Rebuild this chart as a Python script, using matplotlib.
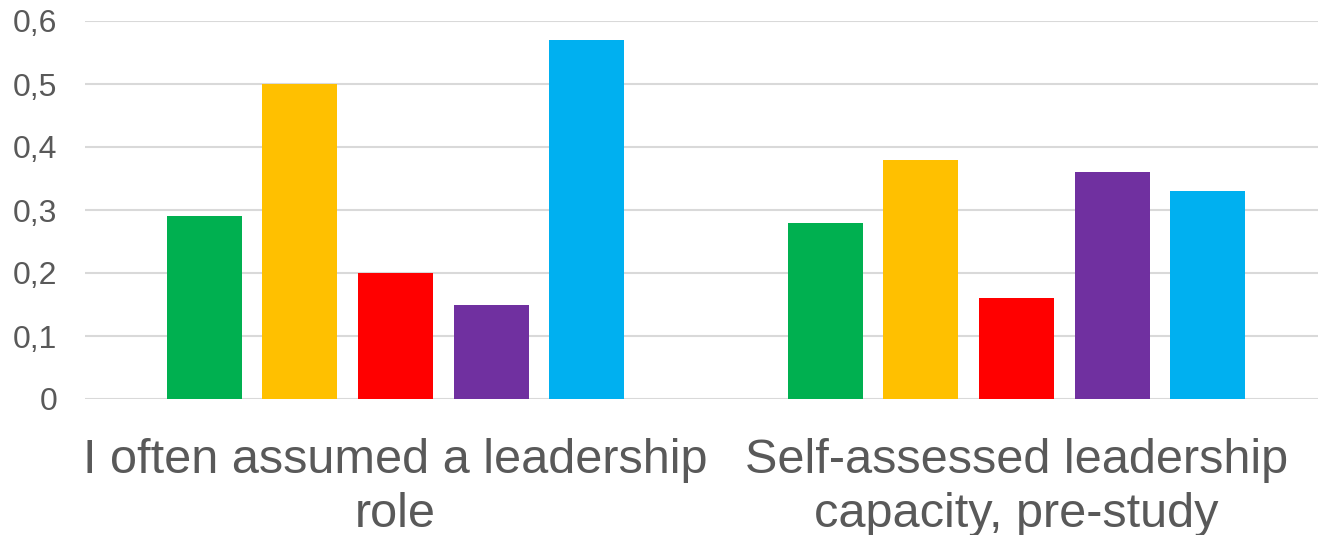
import matplotlib.pyplot as plt
import numpy as np

plt.rcParams['font.family'] = ['Liberation Sans', 'DejaVu Sans']

categories = ['I often assumed a leadership\nrole', 'Self-assessed leadership\ncapacity, pre-study']
series_colors = ['#00B050', '#FFC000', '#FF0000', '#7030A0', '#00B0F0']
green = [0.29, 0.28]
yellow = [0.50, 0.38]
red = [0.20, 0.16]
purple = [0.15, 0.36]
blue = [0.57, 0.33]
series = [green, yellow, red, purple, blue]
yticks = [0, 0.1, 0.2, 0.3, 0.4, 0.5, 0.6]
ytick_labels = ['0', '0,1', '0,2', '0,3', '0,4', '0,5', '0,6']

fig = plt.figure(figsize=(13.18, 5.35), dpi=100)
ax = fig.add_axes([85/1318, 1 - 399/535, 1 - 85/1318, 378/535])

x = np.arange(len(categories))
w = 0.121
step = 0.154
for i, vals in enumerate(series):
    ax.bar(x + (i - 2) * step, vals, width=w, color=series_colors[i], zorder=3)

ax.set_xlim(-0.5, 1.4855)
ax.set_ylim(0, 0.6)
ax.set_yticks(yticks)
ax.set_yticklabels(ytick_labels)
ax.set_xticks(x)
ax.set_xticklabels(categories, linespacing=1.27)
ax.yaxis.grid(True, color='#D9D9D9', linewidth=1.5, zorder=0)
for s in ax.spines.values():
    s.set_visible(False)
ax.tick_params(axis='y', length=0, pad=20, labelsize=23, labelcolor='#595959')
ax.tick_params(axis='x', length=0, pad=28, labelsize=35, labelcolor='#595959')

fig.savefig('out.png', dpi=100)
